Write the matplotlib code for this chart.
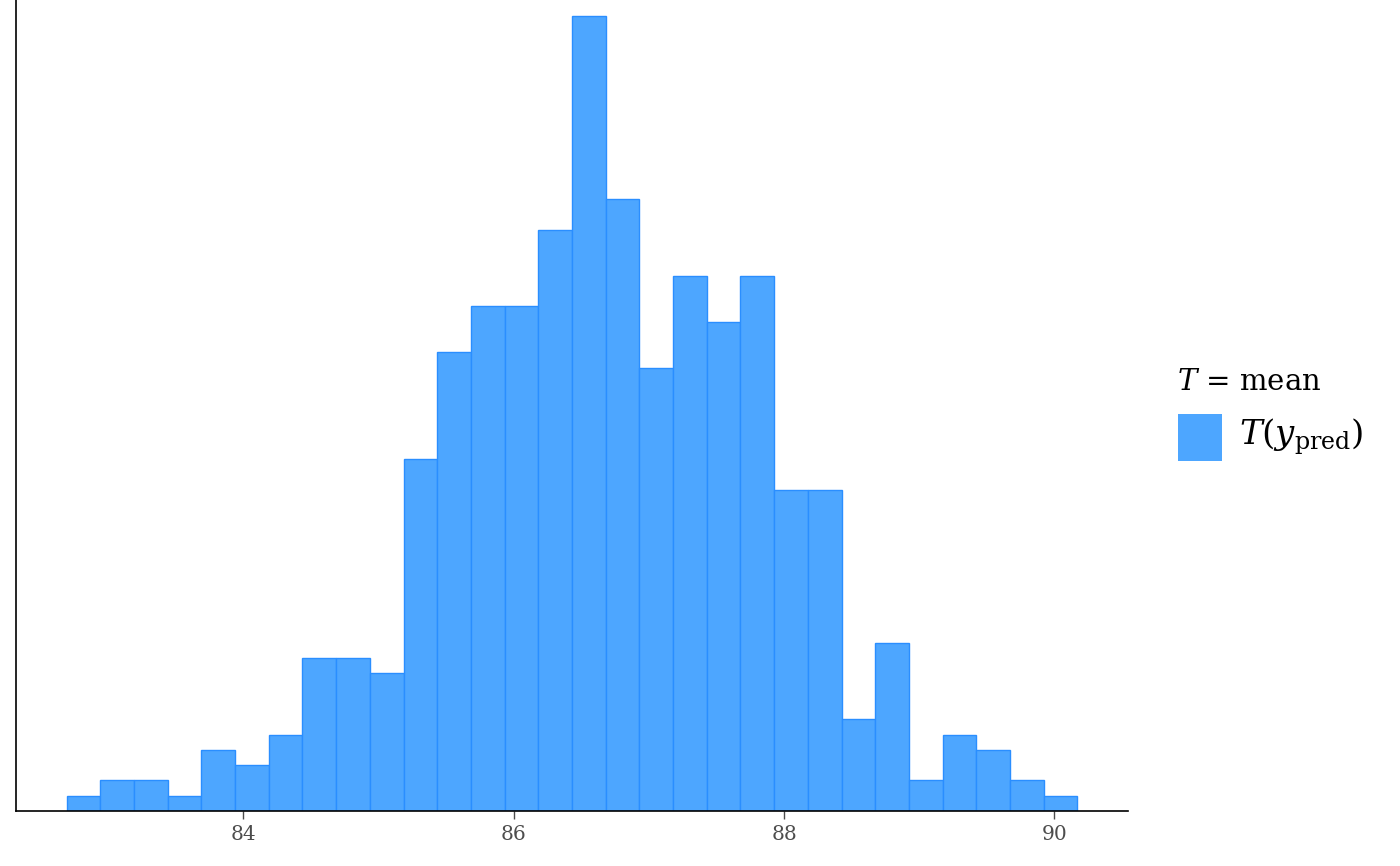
import numpy as np
import matplotlib
matplotlib.use("Agg")
import matplotlib.pyplot as plt
from matplotlib.patches import Rectangle

# Histogram of T(y_pred) = mean, 30 bins
bin_start = 82.694
bin_end = 90.17
counts = [1, 2, 2, 1, 4, 3, 5, 10, 10, 9,
          23, 30, 33, 33, 38, 52, 40, 29, 35, 32,
          35, 21, 21, 6, 11, 2, 5, 4, 2, 1]
xticks = [84, 86, 88, 90]
xtick_labels = ["84", "86", "88", "90"]

plt.rcParams['mathtext.fontset'] = 'dejavuserif'
plt.rcParams['font.family'] = ['DejaVu Serif']

W, H = 1400, 866
fig = plt.figure(figsize=(W / 100, H / 100), dpi=100)
ax = fig.add_axes([16 / W, (H - 811) / H, (1128 - 16) / W, 811 / H])

edges = np.linspace(bin_start, bin_end, len(counts) + 1)
widths = np.diff(edges)
ax.bar(edges[:-1], counts, width=widths, align='edge',
       color='#4DA6FF', edgecolor='#2A8EFF', linewidth=1.0)

rng = bin_end - bin_start
ax.set_xlim(bin_start - 0.05 * rng, bin_end + 0.05 * rng)
ax.set_ylim(0, 53.04)

ax.set_xticks(xticks)
ax.set_xticklabels(xtick_labels, color='#4D4D4D', fontsize=14.5)
ax.tick_params(axis='x', length=6, width=1, color='#4D4D4D', pad=4)
ax.set_yticks([])
for s in ['top', 'right']:
    ax.spines[s].set_visible(False)
for s in ['left', 'bottom']:
    ax.spines[s].set_linewidth(1.2)
    ax.spines[s].set_color('black')

# Legend (manual placement, in figure coordinates)
fig.text(1177 / W, 1 - 382 / H, r'$T$ = mean', fontsize=21, va='center', ha='left')
fig.patches.append(Rectangle((1178 / W, 1 - 461 / H), 44 / W, 47 / H,
                             transform=fig.transFigure, facecolor='#4DA6FF',
                             edgecolor='none'))
fig.text(1239 / W, 1 - 437 / H, r'$T(y_{\mathrm{pred}})$', fontsize=24.5,
         va='center', ha='left')

fig.savefig('out.png', dpi=100)
